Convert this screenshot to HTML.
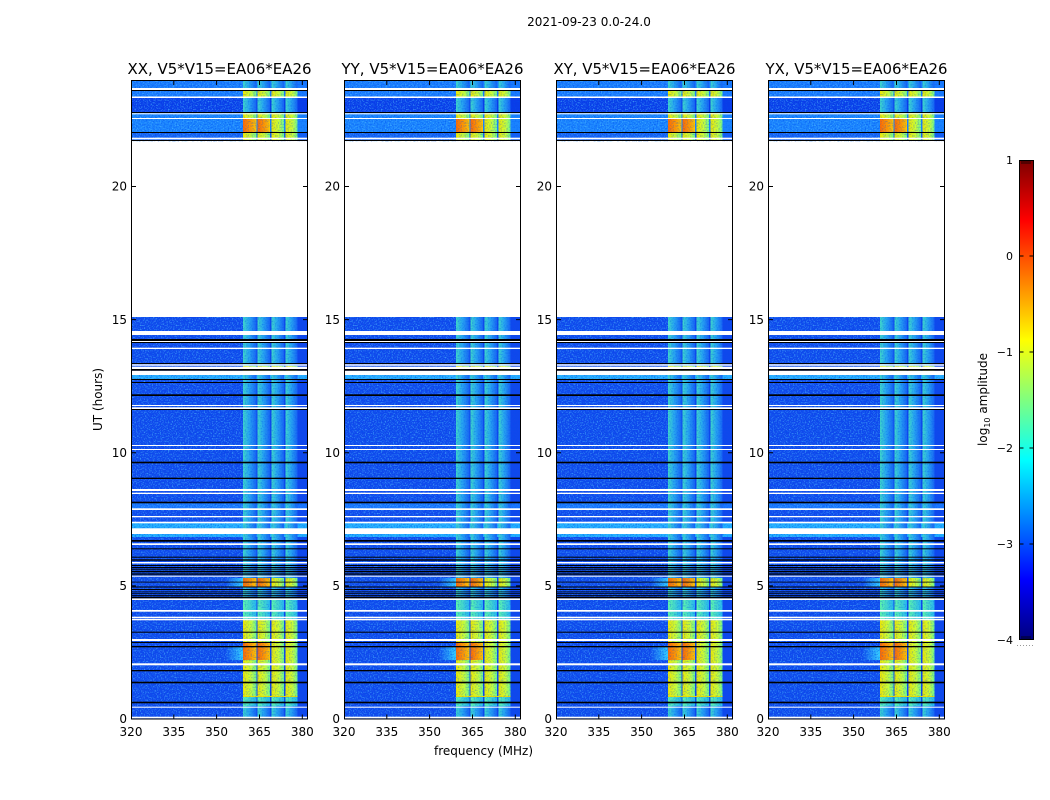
<!DOCTYPE html>
<html><head><meta charset="utf-8"><style>
html,body{margin:0;padding:0;background:#fff;}
svg{display:block;}
text{font-family:"DejaVu Sans","Liberation Sans",sans-serif;fill:#000;}
</style></head><body>
<svg width="1050" height="800" viewBox="0 0 1050 800" xmlns="http://www.w3.org/2000/svg">
<defs>
<filter id="nz" x="0" y="0" width="1" height="1" filterUnits="objectBoundingBox">
<feTurbulence type="fractalNoise" baseFrequency="0.7" numOctaves="1" seed="7" result="t"/>
<feColorMatrix in="t" type="matrix" values="0 0 0 0 0.0  0 0 0 0 0.08  0 0 0 0 0.85  0 0 0 2.0 -0.92"/>
</filter>
<filter id="nz2" x="0" y="0" width="1" height="1" filterUnits="objectBoundingBox">
<feTurbulence type="fractalNoise" baseFrequency="0.75" numOctaves="1" seed="19" result="t"/>
<feColorMatrix in="t" type="matrix" values="0 0 0 0 0.1  0 0 0 0 0.6  0 0 0 0 1  0 0 0 2.0 -0.98"/>
</filter>
<linearGradient id="gCY" x1="0" y1="0" x2="1" y2="0"><stop offset="0" stop-color="#40d8c8"/><stop offset="0.45" stop-color="#28a8f0"/><stop offset="1" stop-color="#1864f4"/></linearGradient>
<linearGradient id="gYL" x1="0" y1="0" x2="1" y2="0"><stop offset="0" stop-color="#f0e800"/><stop offset="0.6" stop-color="#c8ff38"/><stop offset="1" stop-color="#70f890"/></linearGradient>
<linearGradient id="gHOT" x1="0" y1="0" x2="1" y2="0"><stop offset="0" stop-color="#ff6a00"/><stop offset="0.6" stop-color="#ff9c00"/><stop offset="1" stop-color="#ffc800"/></linearGradient>
<linearGradient id="gGR" x1="0" y1="0" x2="1" y2="0"><stop offset="0" stop-color="#60f8a8"/><stop offset="1" stop-color="#28b8f0"/></linearGradient>
<linearGradient id="gFade" x1="0" y1="0" x2="1" y2="0"><stop offset="0" stop-color="#1048ec"/><stop offset="1" stop-color="#30d0ff"/></linearGradient>
<pattern id="pCY" patternUnits="userSpaceOnUse" x="0" y="0" width="177" height="800">
<rect x="112" y="0" width="13.5" height="800" fill="url(#gCY)"/><rect x="126.5" y="0" width="12.5" height="800" fill="url(#gCY)"/><rect x="140.5" y="0" width="12.5" height="800" fill="url(#gCY)"/><rect x="154.5" y="0" width="12" height="800" fill="url(#gCY)"/>
</pattern>
<pattern id="pYL" patternUnits="userSpaceOnUse" x="0" y="0" width="177" height="800">
<rect x="112" y="0" width="13.5" height="800" fill="url(#gYL)"/><rect x="126.5" y="0" width="12.5" height="800" fill="url(#gYL)"/><rect x="140.5" y="0" width="12.5" height="800" fill="url(#gYL)"/><rect x="154.5" y="0" width="12" height="800" fill="url(#gYL)"/>
</pattern>
<pattern id="pHOT" patternUnits="userSpaceOnUse" x="0" y="0" width="177" height="800">
<rect x="112" y="0" width="13.5" height="800" fill="url(#gHOT)"/><rect x="126.5" y="0" width="12.5" height="800" fill="url(#gHOT)"/><rect x="140.5" y="0" width="12.5" height="800" fill="url(#gYL)"/><rect x="154.5" y="0" width="12" height="800" fill="url(#gYL)"/>
</pattern>
<pattern id="pGR" patternUnits="userSpaceOnUse" x="0" y="0" width="177" height="800">
<rect x="112" y="0" width="13.5" height="800" fill="url(#gGR)"/><rect x="126.5" y="0" width="12.5" height="800" fill="url(#gGR)"/><rect x="140.5" y="0" width="12.5" height="800" fill="url(#gGR)"/><rect x="154.5" y="0" width="12" height="800" fill="url(#gGR)"/>
</pattern>
<linearGradient id="jet" x1="0" y1="1" x2="0" y2="0">
<stop offset="0" stop-color="#00007f"/><stop offset="0.125" stop-color="#0000ff"/><stop offset="0.375" stop-color="#00ffff"/><stop offset="0.625" stop-color="#ffff00"/><stop offset="0.875" stop-color="#ff0000"/><stop offset="1" stop-color="#7f0000"/>
</linearGradient>

<g id="heat">
<!-- background rows -->
<g>
<rect x="0" y="80.5" width="177" height="18" fill="#1a7cff"/>
<rect x="0" y="98" width="177" height="15" fill="#0a3ce8"/>
<rect x="0" y="113" width="177" height="19" fill="#1a84ff"/>
<rect x="0" y="132" width="177" height="9" fill="#1460f4"/>
<rect x="0" y="317" width="177" height="58" fill="#1048ec"/>
<rect x="0" y="375" width="177" height="5" fill="#28b0ff"/>
<rect x="0" y="380" width="177" height="123" fill="#1048ec"/>
<rect x="0" y="503" width="177" height="6" fill="#1a78ff"/>
<rect x="0" y="509" width="177" height="14" fill="#1048ec"/>
<rect x="0" y="523" width="177" height="14" fill="#22b0ff"/>
<rect x="0" y="537" width="177" height="182" fill="#1048ec"/>
</g>
<!-- band -->
<g>
<rect x="112" y="80.5" width="54.5" height="7.5" fill="url(#pCY)"/>
<rect x="112" y="88" width="54.5" height="10" fill="url(#pYL)"/>
<rect x="112" y="98" width="54.5" height="15" fill="url(#pCY)"/>
<rect x="112" y="113" width="54.5" height="6" fill="url(#pYL)"/>
<rect x="112" y="119" width="54.5" height="13" fill="url(#pHOT)"/>
<rect x="112" y="132" width="54.5" height="9" fill="url(#pYL)"/>
<rect x="112" y="317" width="54.5" height="49" fill="url(#pCY)"/>
<rect x="112" y="366" width="54.5" height="9" fill="url(#pYL)"/>
<rect x="112" y="375" width="54.5" height="203" fill="url(#pCY)"/>
<rect x="112" y="578" width="54.5" height="9" fill="url(#pHOT)"/>
<rect x="112" y="587" width="54.5" height="13" fill="url(#pCY)"/>
<rect x="112" y="600" width="54.5" height="20" fill="url(#pGR)"/>
<rect x="112" y="620" width="54.5" height="22" fill="url(#pYL)"/>
<rect x="112" y="642" width="54.5" height="18" fill="url(#pHOT)"/>
<rect x="112" y="660" width="54.5" height="37" fill="url(#pYL)"/>
<rect x="112" y="697" width="54.5" height="9" fill="url(#pGR)"/>
<rect x="112" y="706" width="54.5" height="13" fill="url(#pCY)"/>
<rect x="94" y="578" width="18" height="9" fill="url(#gFade)"/>
<rect x="94" y="647" width="18" height="13" fill="url(#gFade)"/>
<rect x="112" y="696" width="54.5" height="1" fill="#f0e000"/>
</g>
<!-- noise texture -->
<rect x="0" y="80.5" width="112" height="61" fill="#000" filter="url(#nz)"/>
<rect x="0" y="317" width="112" height="402" fill="#000" filter="url(#nz)"/>
<rect x="112" y="80.5" width="65" height="61" fill="#000" filter="url(#nz)" opacity="0.6"/>
<rect x="112" y="317" width="65" height="402" fill="#000" filter="url(#nz)" opacity="0.6"/>
<rect x="0" y="80.5" width="112" height="61" fill="#000" filter="url(#nz2)"/>
<rect x="0" y="317" width="112" height="402" fill="#000" filter="url(#nz2)"/>
<!-- white lines -->
<g fill="#ffffff">
<rect x="0" y="88" width="177" height="2"/>
<rect x="0" y="96.5" width="177" height="1.5"/>
<rect x="0" y="113.3" width="177" height="1"/>
<rect x="0" y="118" width="177" height="1"/>
<rect x="0" y="137.7" width="177" height="1.6"/>
<rect x="0" y="331" width="177" height="4"/>
<rect x="0" y="341" width="177" height="1"/>
<rect x="0" y="347.7" width="177" height="1.3"/>
<rect x="0" y="364.3" width="177" height="1.4"/>
<rect x="0" y="366.7" width="177" height="2.3"/>
<rect x="0" y="370.7" width="177" height="4.3"/>
<rect x="0" y="405" width="177" height="1"/>
<rect x="0" y="407.3" width="177" height="1.7"/>
<rect x="0" y="445" width="177" height="1"/>
<rect x="0" y="449" width="177" height="1"/>
<rect x="0" y="489" width="177" height="2"/>
<rect x="0" y="492.7" width="177" height="1.3"/>
<rect x="0" y="508.3" width="177" height="1.7"/>
<rect x="0" y="516" width="177" height="1.3"/>
<rect x="0" y="521.7" width="177" height="1.6"/>
<rect x="0" y="528.3" width="177" height="5.7"/>
<rect x="0" y="543.3" width="177" height="1.7"/>
<rect x="0" y="562" width="177" height="1.5"/>
<rect x="0" y="575.7" width="177" height="1"/>
<rect x="0" y="598.3" width="177" height="1.7"/>
<rect x="0" y="610" width="177" height="1.7"/>
<rect x="0" y="616.7" width="177" height="1.6"/>
<rect x="0" y="619" width="177" height="1.3"/>
<rect x="0" y="639" width="177" height="2"/>
<rect x="0" y="663.3" width="177" height="2"/>
<rect x="0" y="706.7" width="177" height="1"/>
<rect x="0" y="716.7" width="177" height="1.6"/>
</g>
<!-- black lines -->
<g fill="#000000">
<rect x="0" y="90" width="177" height="1"/>
<rect x="0" y="112" width="177" height="1"/>
<rect x="0" y="132" width="177" height="1"/>
<rect x="0" y="140" width="177" height="1"/>
<rect x="0" y="339" width="177" height="2"/>
<rect x="0" y="342" width="177" height="1"/>
<rect x="0" y="363" width="177" height="1"/>
<rect x="0" y="369" width="177" height="1.7"/>
<rect x="0" y="379" width="177" height="1"/>
<rect x="0" y="382" width="177" height="1"/>
<rect x="0" y="394.3" width="177" height="1.7"/>
<rect x="0" y="409" width="177" height="1"/>
<rect x="0" y="461.7" width="177" height="1.6"/>
<rect x="0" y="477.7" width="177" height="1.3"/>
<rect x="0" y="501.7" width="177" height="1.6"/>
<rect x="0" y="540" width="177" height="1.7"/>
<rect x="0" y="548.3" width="177" height="1"/>
<rect x="0" y="556.7" width="177" height="1"/>
<rect x="0" y="559.3" width="177" height="1.4"/>
<rect x="0" y="565" width="177" height="1"/>
<rect x="0" y="567" width="177" height="1.3"/>
<rect x="0" y="569.3" width="177" height="0.9"/>
<rect x="0" y="571" width="177" height="1"/>
<rect x="0" y="572.7" width="177" height="0.9"/>
<rect x="0" y="574.3" width="177" height="0.9"/>
<rect x="0" y="581.7" width="177" height="0.8"/>
<rect x="0" y="586.5" width="177" height="1"/>
<rect x="0" y="589" width="177" height="1"/>
<rect x="0" y="591.5" width="177" height="0.8"/>
<rect x="0" y="593.3" width="177" height="0.8"/>
<rect x="0" y="595" width="177" height="0.8"/>
<rect x="0" y="596.7" width="177" height="1.6"/>
<rect x="0" y="631.7" width="177" height="1"/>
<rect x="0" y="642" width="177" height="1"/>
<rect x="0" y="646" width="177" height="1.3"/>
<rect x="0" y="670" width="177" height="1.3"/>
<rect x="0" y="681.7" width="177" height="1.6"/>
<rect x="0" y="701.7" width="177" height="1.6"/>
</g>
<!-- frame -->
<rect x="0.5" y="80.5" width="176" height="638.5" fill="none" stroke="#000" stroke-width="1"/>
<!-- ticks -->
<g stroke="#000" stroke-width="1">
<path d="M0.5 719H5M0.5 585.9H5M0.5 452.75H5M0.5 319.6H5M0.5 186.5H5M0.5 80.5H5"/>
<path d="M176.5 719H172M176.5 585.9H172M176.5 452.75H172M176.5 319.6H172M176.5 186.5H172"/>
<path d="M42.8 719V714.5M85.6 719V714.5M128.5 719V714.5M171.3 719V714.5"/>
<path d="M42.8 80.5V85M85.6 80.5V85M128.5 80.5V85M171.3 80.5V85"/>
</g>
<!-- tick labels -->
<g font-size="12">
<text x="-4" y="723" text-anchor="end">0</text>
<text x="-4" y="590" text-anchor="end">5</text>
<text x="-4" y="457" text-anchor="end">10</text>
<text x="-4" y="324" text-anchor="end">15</text>
<text x="-4" y="190.5" text-anchor="end">20</text>
<text x="0" y="736" text-anchor="middle">320</text>
<text x="42.8" y="736" text-anchor="middle">335</text>
<text x="85.6" y="736" text-anchor="middle">350</text>
<text x="128.5" y="736" text-anchor="middle">365</text>
<text x="171.3" y="736" text-anchor="middle">380</text>
</g>
</g>
</defs>

<rect x="0" y="0" width="1050" height="800" fill="#fff"/>

<use href="#heat" x="131" y="0"/>
<use href="#heat" x="344" y="0"/>
<use href="#heat" x="556" y="0"/>
<use href="#heat" x="768" y="0"/>

<!-- titles -->
<g font-size="15">
<text x="219.5" y="74" text-anchor="middle" textLength="184" lengthAdjust="spacingAndGlyphs">XX, V5*V15=EA06*EA26</text>
<text x="432.5" y="74" text-anchor="middle" textLength="182" lengthAdjust="spacingAndGlyphs">YY, V5*V15=EA06*EA26</text>
<text x="644.5" y="74" text-anchor="middle" textLength="182" lengthAdjust="spacingAndGlyphs">XY, V5*V15=EA06*EA26</text>
<text x="856.5" y="74" text-anchor="middle" textLength="182" lengthAdjust="spacingAndGlyphs">YX, V5*V15=EA06*EA26</text>
</g>
<text x="589" y="26" font-size="12" text-anchor="middle">2021-09-23 0.0-24.0</text>
<text x="483.5" y="755" font-size="12" text-anchor="middle">frequency (MHz)</text>
<text transform="translate(102,399.5) rotate(-90)" font-size="12" text-anchor="middle">UT (hours)</text>

<!-- colorbar -->
<rect x="1019.5" y="160.5" width="14" height="479" fill="url(#jet)" stroke="#000" stroke-width="1"/>
<g stroke="#000" stroke-width="1">
<path d="M1019.5 256H1023.5M1019.5 352H1023.5M1019.5 448H1023.5M1019.5 544H1023.5"/>
<path d="M1033.5 256H1029.5M1033.5 352H1029.5M1033.5 448H1029.5M1033.5 544H1029.5"/>
<path d="M1022 161V164M1024 161V164M1026 161V164M1028 161V164M1030 161V164M1022 636V639M1024 636V639M1026 636V639M1028 636V639M1030 636V639" stroke-width="0.7"/>
</g>
<path d="M1017 645.5H1034" stroke="#999" stroke-width="1" stroke-dasharray="1,2"/>
<g font-size="11">
<text x="1013" y="164" text-anchor="end">1</text>
<text x="1013" y="260" text-anchor="end">0</text>
<text x="1013" y="356" text-anchor="end">−1</text>
<text x="1013" y="452" text-anchor="end">−2</text>
<text x="1013" y="548" text-anchor="end">−3</text>
<text x="1013" y="644" text-anchor="end">−4</text>
</g>
<text transform="translate(987,399.5) rotate(-90)" font-size="12" text-anchor="middle">log<tspan font-size="8" dy="3">10</tspan><tspan dy="-3"> amplitude</tspan></text>
</svg>
</body></html>
